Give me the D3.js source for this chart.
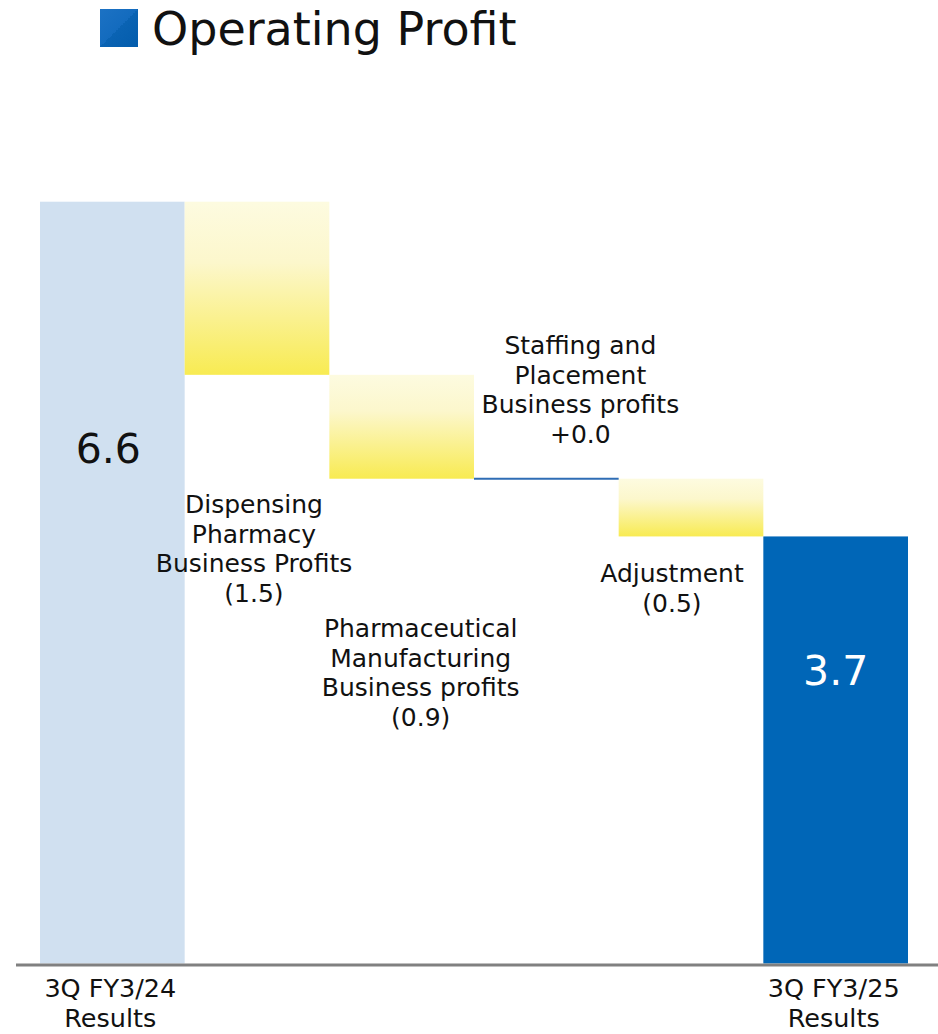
<!DOCTYPE html>
<html>
<head>
<meta charset="utf-8">
<script src="https://cdn.jsdelivr.net/npm/d3@7"></script>
<style>
  html, body { margin: 0; padding: 0; background: #ffffff; }
  svg { display: block; }
  text { font-family: "DejaVu Sans", Verdana, sans-serif; }
</style>
</head>
<body>
<div id="chart"></div>
<script>
// Operating profit bridge (billions of yen)
const steps = [
  "3Q FY3/24 Results",
  "Dispensing Pharmacy Business Profits",
  "Pharmaceutical Manufacturing Business profits",
  "Staffing and Placement Business profits",
  "Adjustment",
  "3Q FY3/25 Results"
];
const kinds = ["total", "delta", "delta", "delta", "delta", "total"];
const values = [6.6, -1.5, -0.9, 0.0, -0.5, 3.7];
const valueLabels = ["6.6", "(1.5)", "(0.9)", "+0.0", "(0.5)", "3.7"];
const stepNameLines = [
  null,
  ["Dispensing", "Pharmacy", "Business Profits"],
  ["Pharmaceutical", "Manufacturing", "Business profits"],
  ["Staffing and", "Placement", "Business profits"],
  ["Adjustment"],
  null
];
const tickLabels = [["3Q FY3/24", "Results"], null, null, null, null, ["3Q FY3/25", "Results"]];
const title = "Operating Profit";

const W = 938, H = 1034;
const svg = d3.select("#chart").append("svg")
  .attr("width", W).attr("height", H);

const defs = svg.append("defs");
const yellow = defs.append("linearGradient")
  .attr("id", "deltaFill").attr("x1", 0).attr("y1", 0).attr("x2", 0).attr("y2", 1);
yellow.append("stop").attr("offset", "0%").attr("stop-color", "#FDFBE0");
yellow.append("stop").attr("offset", "35%").attr("stop-color", "#FCF7CC");
yellow.append("stop").attr("offset", "100%").attr("stop-color", "#F8EB52");

const iconFill = defs.append("linearGradient")
  .attr("id", "iconFill").attr("x1", 0).attr("y1", 0).attr("x2", 1).attr("y2", 1);
iconFill.append("stop").attr("offset", "0%").attr("stop-color", "#1C72C4");
iconFill.append("stop").attr("offset", "50%").attr("stop-color", "#136BBE");
iconFill.append("stop").attr("offset", "50%").attr("stop-color", "#0A63B3");
iconFill.append("stop").attr("offset", "100%").attr("stop-color", "#035CAC");

// Title
svg.append("rect")
  .attr("x", 100).attr("y", 9).attr("width", 38).attr("height", 38)
  .attr("fill", "url(#iconFill)");
svg.append("text")
  .attr("x", 152).attr("y", 45)
  .attr("font-size", 46).attr("fill", "#111")
  .text(title);

// Running totals for the bridge
let running = 0;
const bars = steps.map((name, i) => {
  let start, end;
  if (kinds[i] === "total") {
    start = 0; end = values[i]; running = values[i];
  } else {
    start = running; end = running + values[i]; running = end;
  }
  return { name, i, kind: kinds[i], value: values[i], start, end };
});

const x = d3.scaleBand().domain(steps).range([40, 908]).paddingInner(0).paddingOuter(0);
const y = d3.scaleLinear().domain([0, 6.6]).range([963.5, 201.7]);

const g = svg.append("g");

// Bars
g.selectAll("rect.bar")
  .data(bars.filter(d => d.value !== 0))
  .join("rect")
  .attr("class", "bar")
  .attr("x", d => x(d.name))
  .attr("width", x.bandwidth())
  .attr("y", d => y(Math.max(d.start, d.end)))
  .attr("height", d => Math.abs(y(d.start) - y(d.end)))
  .attr("fill", d => d.kind === "total" ? (d.i === 0 ? "#D0E0F0" : "#0066B7") : "url(#deltaFill)");

// Zero change drawn as a flat line
g.selectAll("line.zero")
  .data(bars.filter(d => d.value === 0))
  .join("line")
  .attr("class", "zero")
  .attr("x1", d => x(d.name))
  .attr("x2", d => x(d.name) + x.bandwidth())
  .attr("y1", d => y(d.end)).attr("y2", d => y(d.end))
  .attr("stroke", "#2F6DB5").attr("stroke-width", 2);

// Baseline
svg.append("line")
  .attr("x1", 16).attr("x2", 938)
  .attr("y1", 965).attr("y2", 965)
  .attr("stroke", "#808080").attr("stroke-width", 3);

// Category labels under the totals
const axis = d3.axisBottom(x)
  .tickValues(steps.filter((s, i) => tickLabels[i]))
  .tickSize(0).tickFormat("");
const axisG = svg.append("g").attr("transform", `translate(0,${965})`).call(axis);
axisG.select(".domain").remove();
axisG.selectAll(".tick").each(function(d) {
  const lines = tickLabels[steps.indexOf(d)];
  const t = d3.select(this).append("text")
    .attr("text-anchor", "middle")
    .attr("fill", "#111")
    .attr("font-size", 25.5)
    .attr("font-family", "DejaVu Sans, Verdana, sans-serif");
  lines.forEach((ln, k) => {
    t.append("tspan").attr("x", -2).attr("y", 32 + k * 30).text(ln);
  });
});

// Values inside the total bars
const totalLabelLayout = { 0: { dx: -4, y: 463, color: "#111" }, 5: { dx: 0, y: 685, color: "#fff" } };
bars.filter(d => d.kind === "total").forEach(d => {
  const L = totalLabelLayout[d.i];
  g.append("text")
    .attr("x", x(d.name) + x.bandwidth() / 2 + L.dx)
    .attr("y", L.y)
    .attr("text-anchor", "middle")
    .attr("font-size", 41)
    .attr("fill", L.color)
    .text(valueLabels[d.i]);
});

// Names and changes for the bridge steps
const deltaLabelLayout = {
  1: { dx: -3, y: 513 },
  2: { dx: 19, y: 637 },
  3: { dx: 34, y: 354 },
  4: { dx: -19, y: 582 }
};
const lineGap = 29.5;
bars.filter(d => d.kind === "delta").forEach(d => {
  const L = deltaLabelLayout[d.i];
  const cx = x(d.name) + x.bandwidth() / 2 + L.dx;
  const lines = stepNameLines[d.i].concat([valueLabels[d.i]]);
  const t = g.append("text")
    .attr("text-anchor", "middle")
    .attr("font-size", 25)
    .attr("fill", "#111");
  lines.forEach((ln, k) => {
    t.append("tspan").attr("x", cx).attr("y", L.y + k * lineGap).text(ln);
  });
});
</script>
</body>
</html>
